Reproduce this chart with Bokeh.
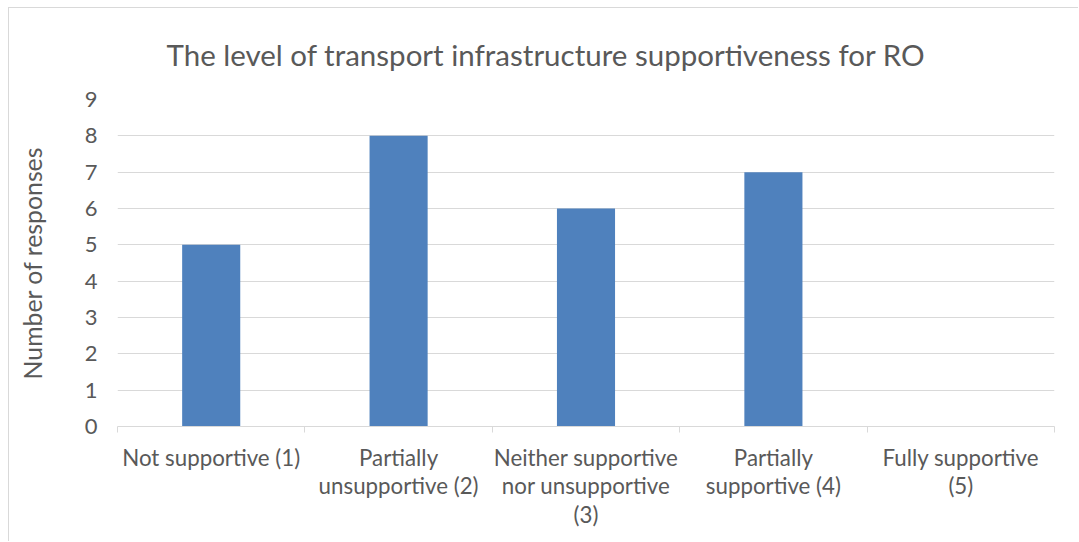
from bokeh.plotting import figure
from bokeh.models import FixedTicker, Range1d
from bokeh.embed import file_html
from bokeh.resources import INLINE

title_text = "The level of transport infrastructure supportiveness for RO"
categories = ["Not supportive (1)", "Partially\nunsupportive (2)",
              "Neither supportive\nnor unsupportive\n(3)", "Partially\nsupportive (4)",
              "Fully supportive\n(5)"]
responses = [5, 8, 6, 7, 0]
y_ticks = [0, 1, 2, 3, 4, 5, 6, 7, 8, 9]

FONT = "Lato"
TXT = "#595959"
GRID = "#d9d9d9"

xpos = [i + 0.5 for i in range(len(categories))]

W, H = 1070, 534
BL, BR, BT, BB = 108, 25, 91, 116
p = figure(width=W, height=H, output_backend="svg", toolbar_location=None,
           x_range=Range1d(0, len(categories)), y_range=Range1d(0, 9),
           min_border_left=BL, min_border_right=BR, min_border_top=BT, min_border_bottom=BB)
p.styles = {"margin-left": "8px", "margin-top": "7px",
            "border-left": "1px solid #d9d9d9", "border-top": "1px solid #d9d9d9"}
p.outline_line_color = None

p.vbar(x=xpos, top=responses, width=0.31, bottom=0, color="#4F81BD", line_color=None)

p.title.text = title_text
p.title.align = "left"
p.title.vertical_align = "top"
p.title.text_font = FONT
p.title.text_font_size = "29.5px"
p.title.text_font_style = "normal"
p.title.text_color = TXT
p.title.standoff = 52
p.title.offset = 49

p.xgrid.grid_line_color = None
p.ygrid.grid_line_color = GRID
p.ygrid.grid_line_width = 1

xa = p.xaxis[0]
xa.ticker = FixedTicker(ticks=xpos, minor_ticks=list(range(len(categories) + 1)))
xa.major_label_overrides = {x: c for x, c in zip(xpos, categories)}
xa.axis_line_color = GRID
xa.major_tick_line_color = None
xa.major_tick_out = 0
xa.minor_tick_line_color = GRID
xa.minor_tick_out = 6
xa.minor_tick_in = 0
xa.major_label_standoff = 11
xa.major_label_text_font = FONT
xa.major_label_text_font_size = "22.3px"
xa.major_label_text_color = TXT
xa.major_label_text_line_height = 1.07

ya = p.yaxis[0]
ya.ticker = FixedTicker(ticks=y_ticks)
ya.axis_line_color = None
ya.major_tick_line_color = None
ya.minor_tick_line_color = None
ya.major_tick_out = 0
ya.major_label_standoff = 20
ya.major_label_text_font = FONT
ya.major_label_text_font_size = "22px"
ya.major_label_text_color = TXT
ya.axis_label = "Number of responses"
ya.axis_label_text_font = FONT
ya.axis_label_text_font_size = "24.8px"
ya.axis_label_text_font_style = "normal"
ya.axis_label_text_color = TXT
ya.axis_label_standoff = 35

open("out.html", "w").write(file_html(p, INLINE))
